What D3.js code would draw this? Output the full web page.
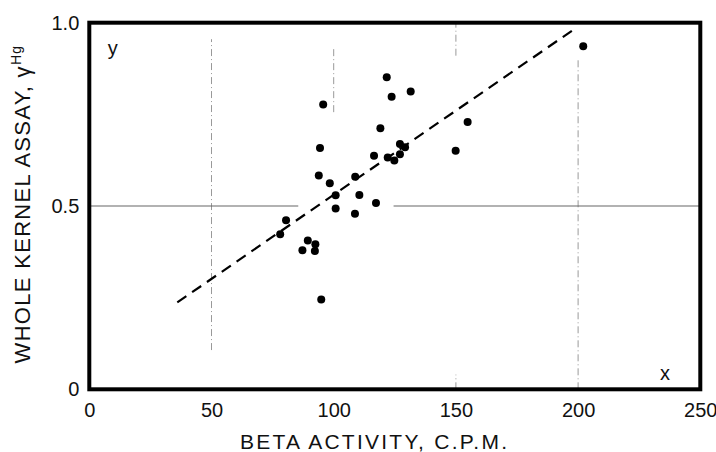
<!DOCTYPE html>
<html>
<head>
<meta charset="utf-8">
<script src="https://cdn.jsdelivr.net/npm/d3@7"></script>
<style>
  body { margin: 0; background: #fff; }
  text { font-family: "Liberation Sans", Arial, sans-serif; fill: #111; }
</style>
</head>
<body>
<svg id="chart"></svg>
<script>
// beta activity (c.p.m.) vs whole kernel assay
var betaActivity = [121.7, 131.5, 123.7, 95.7, 119.1, 127.1, 129.2, 127.1, 94.4, 116.5,
    122.1, 124.8, 93.9, 108.8, 98.4, 100.8, 110.5, 117.3, 100.8, 108.7,
    80.5, 78.1, 89.4, 92.5, 87.2, 92.3, 94.9, 202.1, 154.8, 149.9];
var kernelAssay = [0.851, 0.812, 0.798, 0.777, 0.712, 0.669, 0.660, 0.641, 0.658, 0.637,
    0.632, 0.624, 0.583, 0.580, 0.562, 0.529, 0.530, 0.508, 0.493, 0.479,
    0.461, 0.423, 0.406, 0.396, 0.379, 0.377, 0.245, 0.936, 0.729, 0.651];

// fitted line (dashed)
var fitX = [36, 199];
var fitY = [0.237, 0.985];

var xTicks = [0, 50, 100, 150, 200, 250];
var yTicks = [0, 0.5, 1.0];
var yTickLabels = ["0", "0.5", "1.0"];

// faint grid pieces that survive in the print: [x, y from, y to]
var vGrid = [[50, 0.107, 0.955], [100, 0.756, 0.93], [150, 0.91, 1.0], [150, 0, 0.04], [200, 0, 0.90]];
// horizontal line at 0.5, broken around the points: [y, x from, x to]
var hGrid = [[0.5, 0, 85.5], [0.5, 124.5, 250]];

var svgWidth = 716, svgHeight = 452;
var margin = {top: 22.7, right: 15.7, bottom: 62.7, left: 89.3},
    width = svgWidth - margin.left - margin.right,
    height = svgHeight - margin.top - margin.bottom;

var svg = d3.select("#chart")
    .attr("width", svgWidth)
    .attr("height", svgHeight);

var g = svg.append("g")
    .attr("transform", "translate(" + margin.left + "," + margin.top + ")");

var x = d3.scaleLinear().domain([0, 250]).range([0, width]);
var y = d3.scaleLinear().domain([0, 1]).range([height, 0]);

// grid
g.selectAll(".vgrid")
    .data(vGrid)
    .enter().append("line")
    .attr("class", "vgrid")
    .attr("x1", function (d) { return x(d[0]); })
    .attr("x2", function (d) { return x(d[0]); })
    .attr("y1", function (d) { return y(d[1]); })
    .attr("y2", function (d) { return y(d[2]); })
    .style("stroke", "#999")
    .style("stroke-width", 1)
    .style("stroke-dasharray", "7,3,1,3");

g.selectAll(".hgrid")
    .data(hGrid)
    .enter().append("line")
    .attr("class", "hgrid")
    .attr("x1", function (d) { return x(d[1]); })
    .attr("x2", function (d) { return x(d[2]); })
    .attr("y1", function (d) { return y(d[0]); })
    .attr("y2", function (d) { return y(d[0]); })
    .style("stroke", "#666")
    .style("stroke-width", 1.2);

// dashed fit line
g.append("path")
    .datum(d3.zip(fitX, fitY))
    .attr("d", d3.line()
        .x(function (d) { return x(d[0]); })
        .y(function (d) { return y(d[1]); }))
    .style("fill", "none")
    .style("stroke", "#000")
    .style("stroke-width", 2.2)
    .style("stroke-dasharray", "11,7");

// points
g.selectAll(".dot")
    .data(d3.zip(betaActivity, kernelAssay))
    .enter().append("circle")
    .attr("class", "dot")
    .attr("cx", function (d) { return x(d[0]); })
    .attr("cy", function (d) { return y(d[1]); })
    .attr("r", 4)
    .style("fill", "#000");

// axes, labels only
var xAxis = g.append("g")
    .attr("transform", "translate(0," + height + ")")
    .call(d3.axisBottom(x).tickValues(xTicks).tickSize(0).tickPadding(14).tickFormat(d3.format("d")));
var yAxis = g.append("g")
    .call(d3.axisLeft(y).tickValues(yTicks).tickSize(0).tickPadding(10)
        .tickFormat(function (d, i) { return yTickLabels[i]; }));

[xAxis, yAxis].forEach(function (a) {
    a.select(".domain").remove();
    a.selectAll("text")
        .attr("font-family", "Liberation Sans, Arial, sans-serif")
        .attr("font-size", 20)
        .style("fill", "#111");
});

// frame
g.append("rect")
    .attr("width", width)
    .attr("height", height)
    .style("fill", "none")
    .style("stroke", "#000")
    .style("stroke-width", 4);

// corner letters
g.append("text")
    .attr("x", x(7.5))
    .attr("y", y(0.913))
    .attr("font-size", 20)
    .text("y");
g.append("text")
    .attr("x", x(233.5))
    .attr("y", y(0.025))
    .attr("font-size", 20)
    .text("x");

// axis titles
svg.append("text")
    .attr("x", 373.5)
    .attr("y", 449)
    .attr("font-size", 21)
    .attr("textLength", 267)
    .attr("lengthAdjust", "spacing")
    .style("text-anchor", "middle")
    .text("BETA ACTIVITY,  C.P.M.");

var yt = svg.append("text")
    .attr("transform", "translate(30,204) rotate(-90)")
    .attr("font-size", 22)
    .style("letter-spacing", "1.3px")
    .style("text-anchor", "middle");
yt.append("tspan").text("WHOLE KERNEL ASSAY, \u03B3");
yt.append("tspan")
    .attr("font-size", 14)
    .attr("dy", -9)
    .text("Hg");
</script>
</body>
</html>
